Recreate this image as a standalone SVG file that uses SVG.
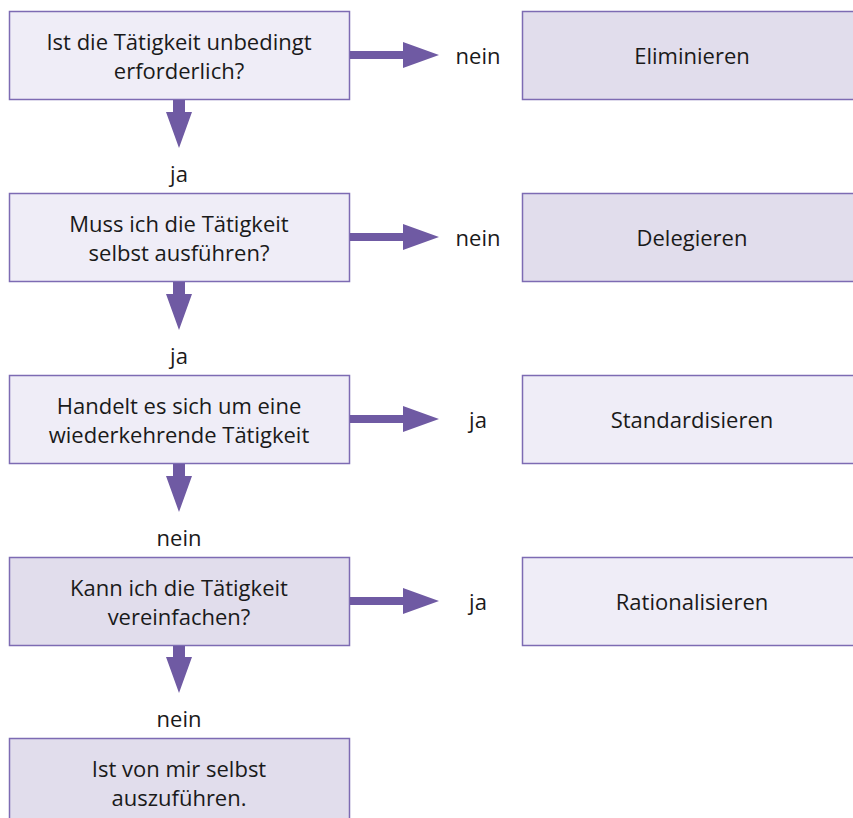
<svg xmlns="http://www.w3.org/2000/svg" width="853" height="818" viewBox="0 0 853 818">
<style>
.box{stroke:#7d6bb3;stroke-width:1.5}
.l{fill:#efedf7}
.d{fill:#e1ddec}
text{font-family:"Open Sans","Noto Sans",sans-serif;font-size:22px;fill:#1a1a1a;text-anchor:middle}
.arr{fill:#6f5aa3}
</style>
<rect width="853" height="818" fill="#fff"/>
<g id="q1"><rect class="box l" x="9.5" y="11.5" width="340" height="88"/><text x="179" y="50">Ist die Tätigkeit unbedingt</text><text x="179" y="79">erforderlich?</text></g>
<g id="q2"><rect class="box l" x="9.5" y="193.5" width="340" height="88"/><text x="179" y="232">Muss ich die Tätigkeit</text><text x="179" y="261">selbst ausführen?</text></g>
<g id="q3"><rect class="box l" x="9.5" y="375.5" width="340" height="88"/><text x="179" y="414">Handelt es sich um eine</text><text x="179" y="443">wiederkehrende Tätigkeit</text></g>
<g id="q4"><rect class="box d" x="9.5" y="557.5" width="340" height="88"/><text x="179" y="596">Kann ich die Tätigkeit</text><text x="179" y="625">vereinfachen?</text></g>
<g id="q5"><rect class="box d" x="9.5" y="738.5" width="340" height="88"/><text x="179" y="777">Ist von mir selbst</text><text x="179" y="806">auszuführen.</text></g>
<g id="r1"><rect class="box d" x="522.5" y="11.5" width="340" height="88"/><text x="692" y="64">Eliminieren</text></g>
<g id="r2"><rect class="box d" x="522.5" y="193.5" width="340" height="88"/><text x="692" y="246">Delegieren</text></g>
<g id="r3"><rect class="box l" x="522.5" y="375.5" width="340" height="88"/><text x="692" y="428">Standardisieren</text></g>
<g id="r4"><rect class="box l" x="522.5" y="557.5" width="340" height="88"/><text x="692" y="610">Rationalisieren</text></g>
<g id="connectors">
<path class="arr" d="M350,51 H403 V42 L439,55 L403,68 V59 H350 Z"/>
<path class="arr" d="M350,233 H403 V224 L439,237 L403,250 V241 H350 Z"/>
<path class="arr" d="M350,415 H403 V406 L439,419 L403,432 V423 H350 Z"/>
<path class="arr" d="M350,597 H403 V588 L439,601 L403,614 V605 H350 Z"/>
<path class="arr" d="M173,100 V112 H166 L179,148 L192,112 H185 V100 Z"/>
<path class="arr" d="M173,282 V294 H166 L179,330 L192,294 H185 V282 Z"/>
<path class="arr" d="M173,464 V476 H166 L179,512 L192,476 H185 V464 Z"/>
<path class="arr" d="M173,646 V657 H166 L179,693 L192,657 H185 V646 Z"/>
<text x="478" y="64">nein</text>
<text x="478" y="246">nein</text>
<text x="478" y="428">ja</text>
<text x="478" y="610">ja</text>
<text x="179" y="182">ja</text>
<text x="179" y="364">ja</text>
<text x="179" y="546">nein</text>
<text x="179" y="727">nein</text>
</g>
</svg>
